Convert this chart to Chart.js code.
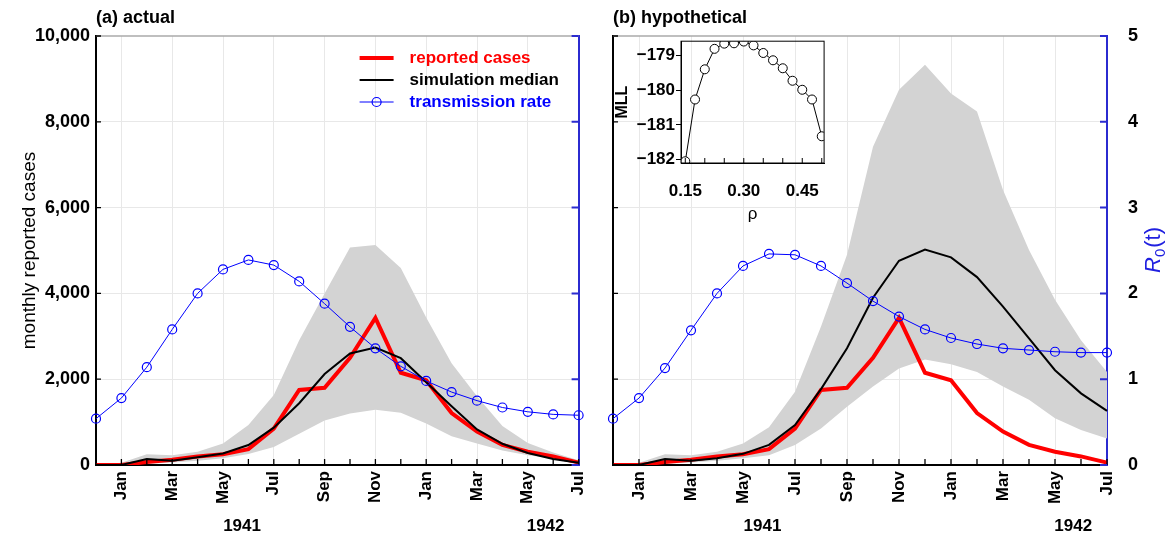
<!DOCTYPE html>
<html>
<head>
<meta charset="utf-8">
<script src="https://cdn.jsdelivr.net/npm/chart.js@4/dist/chart.umd.min.js"></script>
<style>
  body { margin: 0; background: #fff; }
  #wrap { position: relative; width: 1173px; height: 537px; }
  canvas { position: absolute; }
</style>
</head>
<body>
<div id="wrap">
  <canvas id="left" width="605" height="537" style="left:0;top:0"></canvas>
  <canvas id="right" width="573" height="537" style="left:600px;top:0"></canvas>
  <canvas id="inset" width="240" height="200" style="left:600px;top:30px"></canvas>
</div>
<script>
// Dec 1940 .. Jul 1942
const months = ['Dec', 'Jan', 'Feb', 'Mar', 'Apr', 'May', 'Jun', 'Jul', 'Aug', 'Sep', 'Oct', 'Nov',
                'Dec', 'Jan', 'Feb', 'Mar', 'Apr', 'May', 'Jun', 'Jul'];
const years = ['1941', '1942'];

const reported = [0, 0, 70, 120, 200, 250, 370, 850, 1750, 1800, 2500, 3430, 2150, 1975, 1210, 780, 470, 310, 200, 55];

// (a) actual
const medianActual = [0, 0, 140, 100, 180, 270, 465, 870, 1440, 2120, 2600, 2740, 2490, 1930, 1370, 830, 495, 280, 140, 55];
const upperActual = [0, 50, 250, 230, 310, 500, 930, 1630, 2910, 4000, 5070, 5130, 4590, 3440, 2370, 1600, 910, 510, 290, 110];
const lowerActual = [0, 0, 30, 60, 100, 160, 255, 420, 730, 1040, 1200, 1290, 1220, 970, 670, 500, 340, 230, 150, 75];
const r0Actual = [0.54, 0.78, 1.14, 1.58, 2.0, 2.28, 2.39, 2.33, 2.14, 1.88, 1.61, 1.36, 1.15, 0.98, 0.85, 0.75, 0.67, 0.62, 0.59, 0.58];

// (b) hypothetical
const medianHypo = [0, 0, 140, 100, 160, 260, 470, 930, 1770, 2720, 3900, 4760, 5020, 4840, 4380, 3690, 2950, 2210, 1670, 1260];
const upperHypo = [0, 50, 250, 230, 310, 500, 880, 1710, 3230, 4900, 7420, 8750, 9330, 8660, 8240, 6410, 5010, 3850, 2910, 2170];
const lowerHypo = [0, 0, 30, 60, 100, 160, 230, 465, 850, 1360, 1830, 2250, 2460, 2350, 2170, 1830, 1520, 1090, 815, 620];
const r0Hypo = [0.54, 0.78, 1.13, 1.57, 2.0, 2.32, 2.46, 2.45, 2.32, 2.12, 1.91, 1.73, 1.58, 1.48, 1.41, 1.36, 1.34, 1.32, 1.31, 1.31];

// inset: profile likelihood
const rho = [0.15, 0.175, 0.2, 0.225, 0.25, 0.275, 0.3, 0.325, 0.35, 0.375, 0.4, 0.425, 0.45, 0.475, 0.5];
const mll = [-182.05, -180.27, -179.40, -178.81, -178.66, -178.65, -178.6, -178.71, -178.93, -179.14, -179.37, -179.73, -179.99, -180.27, -181.33];

const FONT = "'Liberation Sans', Arial, Helvetica, sans-serif";
const BLUE_AXIS = '#2b2bd0';
const GRID = '#e8e8e8';
Chart.defaults.font.family = FONT;
Chart.defaults.color = '#000';
Chart.defaults.animation = false;

const decor = {
  id: 'decor',
  afterDatasetsDraw(chart, args, o) {
    const { ctx, chartArea: a, scales: { x, y, y1 } } = chart;
    ctx.save();
    // top frame
    ctx.strokeStyle = '#aaaaaa';
    ctx.lineWidth = 1.5;
    ctx.beginPath();
    ctx.moveTo(a.left, a.top);
    ctx.lineTo(a.right, a.top);
    ctx.stroke();
    // inward ticks
    ctx.strokeStyle = '#000';
    ctx.lineWidth = 1.3;
    ctx.beginPath();
    for (let i = 0; i < months.length; i++) {
      const px = x.getPixelForValue(i);
      ctx.moveTo(px, a.bottom);
      ctx.lineTo(px, a.bottom - 6);
    }
    y.ticks.forEach(t => {
      const py = y.getPixelForValue(t.value);
      ctx.moveTo(a.left, py);
      ctx.lineTo(a.left + 5, py);
    });
    ctx.stroke();
    ctx.strokeStyle = BLUE_AXIS;
    ctx.lineWidth = 2;
    ctx.beginPath();
    y1.ticks.forEach(t => {
      const py = y1.getPixelForValue(t.value);
      ctx.moveTo(a.right, py);
      ctx.lineTo(a.right - 7, py);
    });
    ctx.stroke();

    // panel title and year labels
    ctx.fillStyle = '#000';
    ctx.textBaseline = 'alphabetic';
    ctx.textAlign = 'left';
    ctx.font = 'bold 18px ' + FONT;
    ctx.fillText(o.panel === 'a' ? '(a) actual' : '(b) hypothetical', a.left, 23);
    ctx.textAlign = 'center';
    ctx.font = 'bold 17px ' + FONT;
    ctx.fillText(years[0], x.getPixelForValue(5.75), 531);
    ctx.fillText(years[1], x.getPixelForValue(17.7), 531);

    if (o.panel === 'a') {
      // legend
      const ds = chart.data.datasets;
      const items = [ds[2], ds[1], ds[0]];
      const x0 = a.right - 219, x1 = a.right - 185, tx = a.right - 169;
      items.forEach((d, k) => {
        const ly = a.top + 22 + k * 22;
        ctx.strokeStyle = d.borderColor;
        ctx.lineWidth = d.borderWidth;
        ctx.beginPath();
        ctx.moveTo(x0, ly);
        ctx.lineTo(x1, ly);
        ctx.stroke();
        if (d.pointRadius > 0) {
          ctx.lineWidth = 1.2;
          ctx.beginPath();
          ctx.arc((x0 + x1) / 2, ly, d.pointRadius, 0, Math.PI * 2);
          ctx.stroke();
        }
        ctx.fillStyle = d.legendColor;
        ctx.textAlign = 'left';
        ctx.textBaseline = 'middle';
        ctx.font = 'bold 17px ' + FONT;
        ctx.fillText(d.label, tx, ly);
      });
    } else {
      // R0(t) axis title
      const cx = a.right + 45, cy = (a.top + a.bottom) / 2;
      ctx.translate(cx, cy);
      ctx.rotate(-Math.PI / 2);
      ctx.fillStyle = '#2020e0';
      ctx.textAlign = 'left';
      ctx.textBaseline = 'alphabetic';
      ctx.font = 'italic 22px ' + FONT;
      const wR = ctx.measureText('R').width;
      ctx.font = '15px ' + FONT;
      const w0 = ctx.measureText('0').width;
      ctx.font = '22px ' + FONT;
      const wT = ctx.measureText('(t)').width;
      let tx = -(wR + w0 + wT) / 2;
      ctx.font = 'italic 22px ' + FONT;
      ctx.fillText('R', tx, 8);
      tx += wR;
      ctx.font = '15px ' + FONT;
      ctx.fillText('0', tx, 13);
      tx += w0 + 1;
      ctx.font = '22px ' + FONT;
      ctx.fillText('(t)', tx, 8);
    }
    ctx.restore();
  }
};

function panel(canvasId, p) {
  const tickFont = { family: FONT, size: 18, weight: 'bold' };
  return new Chart(document.getElementById(canvasId), {
    type: 'line',
    data: {
      labels: months,
      datasets: [
        { label: 'transmission rate', data: p.r0, yAxisID: 'y1', borderColor: '#0000ff', legendColor: '#0000ff',
          borderWidth: 1, pointRadius: 4.5, pointBorderColor: '#0000ff', pointBackgroundColor: 'rgba(0,0,0,0)',
          pointBorderWidth: 1.2, order: 0 },
        { label: 'simulation median', data: p.median, yAxisID: 'y', borderColor: '#000', legendColor: '#000',
          borderWidth: 2, pointRadius: 0, order: 1 },
        { label: 'reported cases', data: reported, yAxisID: 'y', borderColor: '#ff0000', legendColor: '#ff0000',
          borderWidth: 4, pointRadius: 0, order: 2 },
        { label: 'upper', data: p.upper, yAxisID: 'y', borderColor: 'rgba(0,0,0,0)', borderWidth: 0,
          pointRadius: 0, backgroundColor: '#d3d3d3', fill: '+1', order: 3 },
        { label: 'lower', data: p.lower, yAxisID: 'y', borderColor: 'rgba(0,0,0,0)', borderWidth: 0,
          pointRadius: 0, fill: false, order: 4 }
      ]
    },
    options: {
      responsive: false,
      events: [],
      layout: { padding: { top: 36, left: 0, right: 0, bottom: 0 } },
      plugins: { legend: { display: false }, tooltip: { enabled: false }, decor: { panel: p.panel } },
      scales: {
        x: {
          type: 'category',
          offset: false,
          grid: { color: c => (c.index % 2 === 1 ? GRID : 'rgba(0,0,0,0)'), drawTicks: false },
          border: { color: '#000', width: 2 },
          ticks: { autoSkip: false, minRotation: 90, maxRotation: 90, padding: 6,
                   font: { family: FONT, size: 17, weight: 'bold' },
                   callback: (v, i) => (i % 2 === 1 ? months[i] : '') },
          afterFit: s => { s.height = 72; }
        },
        y: {
          position: 'left',
          min: 0, max: 10000,
          grid: { color: c => (c.tick && c.tick.value > 0 && c.tick.value < 10000 ? GRID : 'rgba(0,0,0,0)'), drawTicks: false },
          border: { color: '#000', width: 2 },
          ticks: { stepSize: 2000, display: p.panel === 'a', padding: 6, font: tickFont,
                   callback: v => v.toLocaleString('en-US') },
          title: { display: p.panel === 'a', text: 'monthly reported cases',
                   font: { family: FONT, size: 19 }, padding: { top: 18 } },
          afterFit: s => { s.width = p.yWidth; }
        },
        y1: {
          position: 'right',
          min: 0, max: 5,
          grid: { drawOnChartArea: false, drawTicks: false },
          border: { color: BLUE_AXIS, width: 2 },
          ticks: { stepSize: 1, display: p.panel === 'b', padding: 21, font: tickFont },
          afterFit: s => { s.width = p.y1Width; }
        }
      }
    },
    plugins: [decor]
  });
}

panel('left', { panel: 'a', r0: r0Actual, median: medianActual, upper: upperActual, lower: lowerActual, yWidth: 96, y1Width: 14 });
panel('right', { panel: 'b', r0: r0Hypo, median: medianHypo, upper: upperHypo, lower: lowerHypo, yWidth: 13, y1Width: 66 });

const insetFrame = {
  id: 'insetFrame',
  afterDraw(chart) {
    const { ctx, chartArea: a, scales: { x } } = chart;
    ctx.save();
    ctx.strokeStyle = '#000';
    ctx.lineWidth = 1;
    ctx.strokeRect(a.left, a.top, a.right - a.left, a.bottom - a.top);
    ctx.beginPath();
    x.ticks.forEach(t => {
      const px = x.getPixelForValue(t.value);
      ctx.moveTo(px, a.bottom);
      ctx.lineTo(px, a.bottom - 5);
    });
    ctx.stroke();
    ctx.restore();
  }
};

new Chart(document.getElementById('inset'), {
  type: 'line',
  data: {
    datasets: [{
      data: rho.map((r, i) => ({ x: r, y: mll[i] })),
      borderColor: '#000', borderWidth: 1,
      pointRadius: 4.5, pointBorderColor: '#000', pointBackgroundColor: '#fff', pointBorderWidth: 1,
      clip: 0
    }]
  },
  options: {
    responsive: false,
    events: [],
    layout: { padding: { top: 11, right: 15, left: 0, bottom: 0 } },
    plugins: { legend: { display: false }, tooltip: { enabled: false } },
    scales: {
      x: {
        type: 'linear', min: 0.139, max: 0.506,
        grid: { display: false, drawTicks: false },
        border: { color: '#000', width: 1 },
        ticks: { stepSize: 0.05, includeBounds: false, padding: 18, autoSkip: false, minRotation: 0, maxRotation: 0,
                 font: { family: FONT, size: 17, weight: 'bold' },
                 callback: v => { const k = Math.round(v * 100); return (k === 15 || k === 30 || k === 45) ? (k / 100).toFixed(2) : ''; } },
        title: { display: true, text: 'ρ', font: { family: FONT, size: 17 }, padding: { bottom: 5 } },
        afterFit: s => { s.height = 67; }
      },
      y: {
        type: 'linear', min: -182.1, max: -178.59,
        grid: { drawOnChartArea: false, drawTicks: true, tickLength: 5, color: '#000' },
        border: { color: '#000', width: 1 },
        ticks: { stepSize: 1, includeBounds: false, padding: 1,
                 font: { family: FONT, size: 17, weight: 'bold' },
                 callback: v => '\u2212' + Math.abs(v) },
        title: { display: true, text: 'MLL', font: { family: FONT, size: 16, weight: 'bold' }, padding: { top: 13 } },
        afterFit: s => { s.width = 81; }
      }
    }
  },
  plugins: [insetFrame]
});
</script>
</body>
</html>
